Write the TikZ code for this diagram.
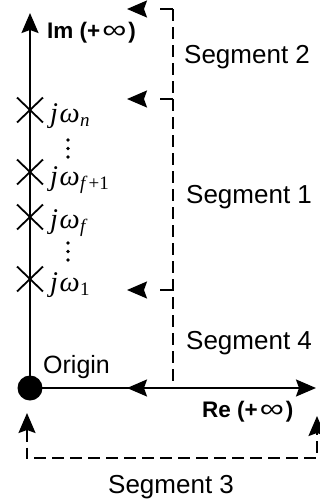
\documentclass[tikz,border=0pt]{standalone}
\usepackage{fontspec}
\setmainfont{Liberation Sans}
\newfontfamily\tms{Liberation Serif}
\usetikzlibrary{arrows.meta,shapes.misc}
\newcommand\jwlab[1]{j\kern1.5ptω\kern0.5pt\raisebox{-4.5pt}{\fontsize{19}{19}\selectfont #1}}
\newcommand\infsym{\hspace{2pt}{\mdseries\scalebox{1.5}[1.15]{∞}}\hspace{2pt}}
\begin{document}
\begin{tikzpicture}[x=1pt,y=-1pt,
  tipstyle/.style={-{Stealth[length=20pt,width=17pt,inset=3pt]}},
  axis/.style={line width=1.9pt,tipstyle},
  dsh/.style={line width=1.8pt,dash pattern=on 12pt off 6pt},
  lead/.style={line width=1.8pt,dash pattern=on 13pt off 80pt,tipstyle},
  seglbl/.style={font=\fontsize{26}{30}\selectfont,anchor=base west,inner sep=0pt},
  axlbl/.style={font=\bfseries\fontsize{22.5}{26}\selectfont,anchor=base west,inner sep=0pt},
  mlbl/.style={font=\tms\itshape\fontsize{28.5}{30}\selectfont,anchor=base west,inner sep=0pt},
  crs/.style={cross out,draw,line width=1.8pt,minimum width=24pt,minimum height=23pt,inner sep=0pt},
  vdot/.style={circle,fill,inner sep=0pt,minimum size=3.6pt},
]
\useasboundingbox (0,0) rectangle (320,501);

% origin and axes
\node[circle,fill,minimum size=25pt,inner sep=0pt] (O) at (30,388) {};
\coordinate (imtip) at (30,13);
\coordinate (retip) at (316,388);
\draw[axis] (O.center) -- (imtip);
\draw[axis] (O.center) -- (retip);
\node[axlbl] (im) at (47,38) {Im (+\infsym)};
\node[axlbl] (re) at (202,417) {Re (+\infsym)};
\node[seglbl,font=\fontsize{25}{30}\selectfont] (orig) at (43,373) {Origin};

% poles on imaginary axis
\node[crs] (pn) at (30,110) {};
\node[crs] (pf1) at (30,172) {};
\node[crs] (pf) at (30,217) {};
\node[crs] (p1) at (30,279) {};
\node[mlbl] (ln) at (50,122) {\jwlab{n}};
\node[mlbl] (lf1) at (50,185) {\jwlab{f\upshape\,+1}};
\node[mlbl] (lf) at (50,228) {\jwlab{f}};
\node[mlbl] (l1) at (50,291) {\jwlab{\upshape 1}};
\node[vdot] (da1) at (68,140) {};
\node[vdot] (da2) at (68,148.5) {};
\node[vdot] (da3) at (68,157) {};
\node[vdot] (db1) at (68,243) {};
\node[vdot] (db2) at (68,251.5) {};
\node[vdot] (db3) at (68,260) {};

% contour segments
\coordinate (c2) at (173,9);
\coordinate (c1) at (173,99);
\coordinate (c4) at (173,290);
\coordinate (c0) at (173,388);
\coordinate (t2) at (127,9);
\coordinate (t1) at (127,99);
\coordinate (t4) at (127,290);
\coordinate (t0) at (127,388);
\draw[dsh] (c2) -- (c0);
\draw[lead] (c2) -- (t2);
\draw[lead] (c1) -- (t1);
\draw[lead] (c4) -- (t4);
\draw[line width=1.8pt,tipstyle] (c0) -- (t0);

\coordinate (s3l) at (27,413);
\coordinate (s3bl) at (27,458);
\coordinate (s3br) at (317,458);
\coordinate (s3r) at (317,416);
\draw[dsh,{Stealth[length=20pt,width=17pt,inset=3pt]}-{Stealth[length=20pt,width=17pt,inset=3pt]}] (s3l) -- (s3bl) -- (s3br) -- (s3r);

\node[seglbl] (sg2) at (184,63) {Segment 2};
\node[seglbl] (sg1) at (186,203) {Segment 1};
\node[seglbl] (sg4) at (186,349) {Segment 4};
\node[seglbl] (sg3) at (108,493) {Segment 3};
\end{tikzpicture}
\end{document}
